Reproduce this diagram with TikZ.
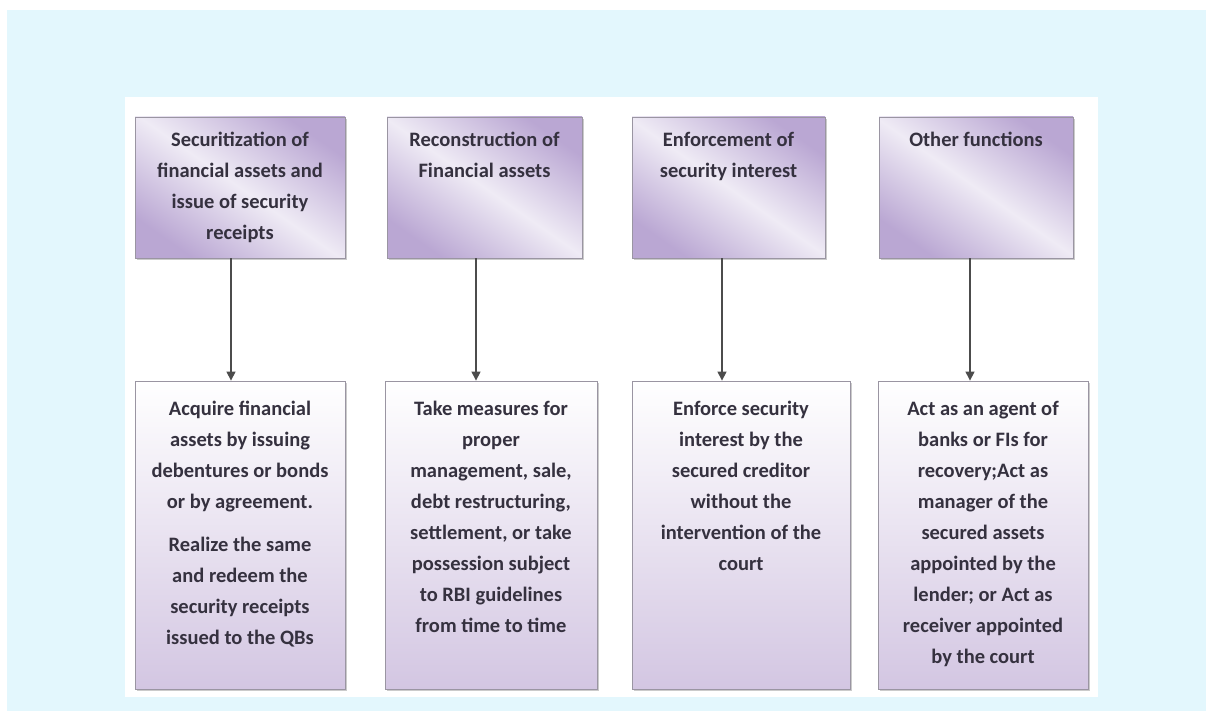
\documentclass[tikz,border=0pt]{standalone}
\usepackage{fontspec}
\setmainfont{Carlito}
\usetikzlibrary{positioning,shadows,arrows.meta}
\definecolor{skyback}{HTML}{E3F7FD}
\definecolor{lavdark}{HTML}{BAA7D3}
\definecolor{lavlight}{HTML}{EFEBF5}
\definecolor{lavlow}{HTML}{D3C6E2}
\definecolor{boxline}{HTML}{9A95A2}
\definecolor{inkgray}{HTML}{35313F}
\tikzset{
  headbox/.style={draw=boxline,line width=0.8pt,left color=lavdark,right color=lavdark,middle color=lavlight,shading angle=-35,
    drop shadow={shadow xshift=1.5pt,shadow yshift=-2pt,fill=black!40}},
  bodybox/.style={draw=boxline,line width=0.8pt,top color=white,bottom color=lavlow,
    drop shadow={shadow xshift=1.5pt,shadow yshift=-2pt,fill=black!40}},
  boxtxt/.style={inner sep=0pt,align=center,text=inkgray,font=\fontsize{20.5}{31}\selectfont\bfseries},
  flow/.style={draw=black!70,line width=1.2pt,-{Triangle[length=9pt,width=9pt]}}
}
\begin{document}
\begin{tikzpicture}[x=1pt,y=1pt]
\useasboundingbox (0,0) rectangle (1206,-711);
\fill[skyback] (7,-10) rectangle (1206,-711);
\fill[white] (125,-97) rectangle (1098,-697);
% top row
\node[headbox,minimum width=210pt,minimum height=141pt] (sec) at (240,-187.5) {};
\node[headbox,minimum width=195pt,minimum height=141pt] (rec) at (484.5,-187.5) {};
\node[headbox,minimum width=193pt,minimum height=141pt] (enf) at (728.5,-187.5) {};
\node[headbox,minimum width=194pt,minimum height=141pt] (oth) at (976,-187.5) {};
\node[boxtxt,below=15pt of sec.north] (sectxt) {Securitization of\\financial assets and\\issue of security\\receipts};
\node[boxtxt,below=15pt of rec.north] (rectxt) {Reconstruction of\\Financial assets};
\node[boxtxt,below=15pt of enf.north] (enftxt) {Enforcement of\\security interest};
\node[boxtxt,below=15pt of oth.north] (othtxt) {Other functions};
% bottom row
\node[bodybox,minimum width=210pt,minimum height=308pt] (acq) at (240,-535) {};
\node[bodybox,minimum width=212pt,minimum height=308pt] (msr) at (491,-535) {};
\node[bodybox,minimum width=218pt,minimum height=308pt] (frc) at (741,-535) {};
\node[bodybox,minimum width=210pt,minimum height=308pt] (act) at (983,-535) {};
\node[boxtxt,below=20pt of acq.north] (acqtxt) {Acquire financial\\assets by issuing\\debentures or bonds\\or by agreement.\\[12pt]Realize the same\\and redeem the\\security receipts\\issued to the QBs};
\node[boxtxt,below=20pt of msr.north] (msrtxt) {Take measures for\\proper\\management, sale,\\debt restructuring,\\settlement, or take\\possession subject\\to RBI guidelines\\from time to time};
\node[boxtxt,below=20pt of frc.north] (frctxt) {Enforce security\\interest by the\\secured creditor\\without the\\intervention of the\\court};
\node[boxtxt,below=20pt of act.north] (acttxt) {Act as an agent of\\banks or FIs for\\recovery;Act as\\manager of the\\secured assets\\appointed by the\\lender; or Act as\\receiver appointed\\by the court};
% arrows
\foreach \t/\b/\dx in {sec/acq/9,rec/msr/8.5,enf/frc/6.5,oth/act/6}
  \draw[flow] ([xshift=-\dx pt]\t.south) -- ([xshift=-\dx pt]\t.south |- \b.north);
\end{tikzpicture}
\end{document}
